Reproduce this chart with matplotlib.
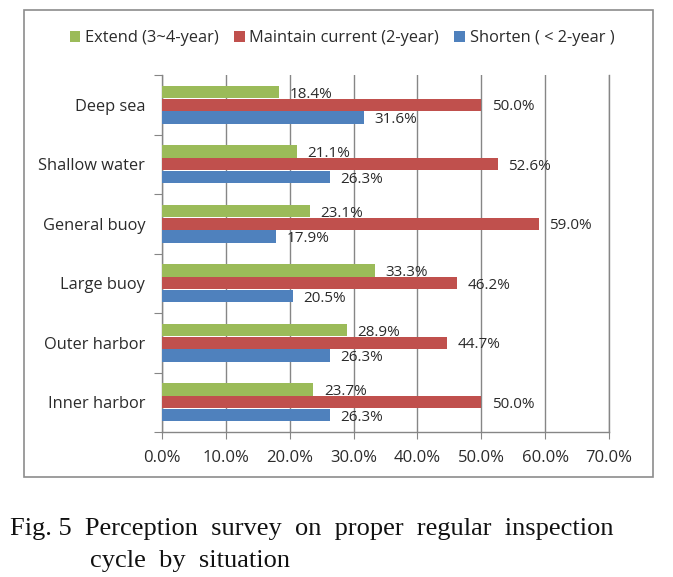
import matplotlib
matplotlib.use("Agg")
import matplotlib.pyplot as plt
import numpy as np
from matplotlib.patches import Rectangle, Patch

categories = ["Deep sea", "Shallow water", "General buoy", "Large buoy", "Outer harbor", "Inner harbor"]
extend = [18.4, 21.1, 23.1, 33.3, 28.9, 23.7]
maintain = [50.0, 52.6, 59.0, 46.2, 44.7, 50.0]
shorten = [31.6, 26.3, 17.9, 20.5, 26.3, 26.3]
series_names = ["Extend (3~4-year)", "Maintain current (2-year)", "Shorten ( < 2-year )"]
xticks = [0, 10, 20, 30, 40, 50, 60, 70]
caption1 = "Fig. 5  Perception  survey  on  proper  regular  inspection"
caption2 = "cycle  by  situation"

colors = ["#9BBB59", "#C0504D", "#4F81BD"]
W, H = 673, 577
fig = plt.figure(figsize=(W / 100, H / 100), dpi=100)
fig.patch.set_facecolor("white")

# outer chart border
fig.patches.append(Rectangle((24 / W, 1 - 477 / H), 629 / W, 467 / H, transform=fig.transFigure,
                             fill=False, edgecolor="#8c8c8c", linewidth=1.2))

ax = fig.add_axes([162 / W, 1 - 432 / H, 447 / W, 357 / H])
font = "Open Sans"
tc = "#2b2b2b"
gc = "#868686"

y = np.arange(len(categories))
h = 0.205
for i, (vals, c) in enumerate(zip([extend, maintain, shorten], colors)):
    pos = y + (i - 1) * (h + 0.01)
    ax.barh(pos, vals, height=h, color=c, zorder=3)
    for p, v in zip(pos, vals):
        ax.annotate(f"{v:.1f}%", (v, p), xytext=(7.5, -1.5), textcoords="offset points",
                    va="center", ha="left", fontsize=11, family=font, color=tc, zorder=4)

ax.set_xlim(0, 70)
ax.set_ylim(len(categories) - 0.5, -0.5)
ax.set_xticks(xticks)
ax.set_xticklabels([f"{t:.1f}%" for t in xticks], family=font, fontsize=12, color=tc)
ax.grid(axis="x", color=gc, linewidth=1, zorder=0)
ax.set_yticks(np.arange(len(categories) + 1) - 0.5)
ax.set_yticklabels([])
ax.set_yticks(y, minor=True)
ax.set_yticklabels(categories, minor=True, family=font, fontsize=11.8, color=tc)
ax.tick_params(axis="y", which="major", length=6, color=gc, direction="out")
ax.tick_params(axis="y", which="minor", length=0, pad=12)
ax.tick_params(axis="x", length=5, color=gc, direction="out", pad=8)
ax.spines["top"].set_visible(False)
for s in ["left", "bottom", "right"]:
    ax.spines[s].set_color(gc)
    ax.spines[s].set_linewidth(1)

handles = [Patch(facecolor=c) for c in colors]
fig.legend(handles, series_names, loc="center", bbox_to_anchor=(342 / W, 1 - 38 / H), ncol=3,
           frameon=False, prop={"family": font, "size": 11.8}, handlelength=0.65, handleheight=0.65,
           handletextpad=0.3, columnspacing=0.9, labelcolor=tc)

fig.text(10 / W, 1 - 535 / H, caption1, family="Liberation Serif", fontsize=19, va="baseline", color="#111111")
fig.text(90 / W, 1 - 567 / H, caption2, family="Liberation Serif", fontsize=19, va="baseline", color="#111111")

fig.savefig("out.png", dpi=100)
